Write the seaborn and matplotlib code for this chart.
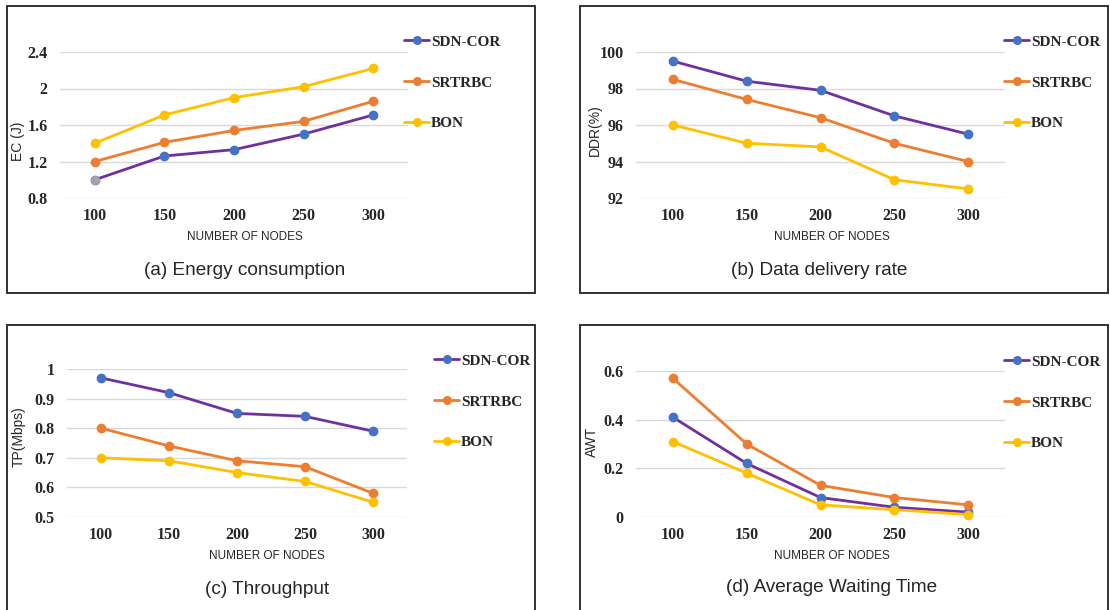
import numpy as np
import pandas as pd
import matplotlib
matplotlib.use('Agg')
import matplotlib.pyplot as plt
import matplotlib.colors as mcolors
from matplotlib.lines import Line2D
from matplotlib.patches import Rectangle
import seaborn as sns

sns.set_style('white')
plt.rcParams['font.family'] = ['Liberation Sans', 'DejaVu Sans']

nodes = [100, 150, 200, 250, 300]
methods = ['SDN-COR', 'SRTRBC', 'BON']

# (a) energy consumption
ec_sdn = [1.0, 1.26, 1.33, 1.50, 1.71]
ec_srt = [1.20, 1.41, 1.54, 1.64, 1.86]
ec_bon = [1.40, 1.71, 1.90, 2.02, 2.22]
# (b) data delivery rate
ddr_sdn = [99.5, 98.4, 97.9, 96.5, 95.5]
ddr_srt = [98.5, 97.4, 96.4, 95.0, 94.0]
ddr_bon = [96.0, 95.0, 94.8, 93.0, 92.5]
# (c) throughput
tp_sdn = [0.97, 0.92, 0.85, 0.84, 0.79]
tp_srt = [0.80, 0.74, 0.69, 0.67, 0.58]
tp_bon = [0.70, 0.69, 0.65, 0.62, 0.55]
# (d) average waiting time
awt_sdn = [0.41, 0.22, 0.08, 0.04, 0.02]
awt_srt = [0.57, 0.30, 0.13, 0.08, 0.05]
awt_bon = [0.31, 0.18, 0.05, 0.03, 0.01]

line_cols = {'SDN-COR': '#7030A0', 'SRTRBC': '#ED7D31', 'BON': '#FFC000'}
mark_cols = {'SDN-COR': '#4472C4', 'SRTRBC': '#ED7D31', 'BON': '#FFC000'}

W, H = 1110, 610
fig = plt.figure(figsize=(W / 100, H / 100), dpi=100)


def px_axes(x0, y0, x1, y1):
    return fig.add_axes([x0 / W, 1 - y1 / H, (x1 - x0) / W, (y1 - y0) / H])


def box(x0, y0, x1, y1):
    fig.patches.append(Rectangle((x0 / W, 1 - y1 / H), (x1 - x0) / W, (y1 - y0) / H,
                                 transform=fig.transFigure, fill=False,
                                 edgecolor='#222222', lw=1.3))


serif_bold = dict(family='Liberation Serif', weight='bold', size=11)
LW, MS = 2.0, 5.5

panels = [
    # series, yticks, ylabel, caption, axes box, frame, legend pos, ylabel pos, xlabel pos, caption pos
    ((ec_sdn, ec_srt, ec_bon), [0.8, 1.2, 1.6, 2.0, 2.4], 'EC (J)', '(a) Energy consumption',
     (60, 52, 408, 198), (7, 6, 535, 293), (404, 35), (18, 141), (245, 237), (245, 270)),
    ((ddr_sdn, ddr_srt, ddr_bon), [92, 94, 96, 98, 100], 'DDR(%)', '(b) Data delivery rate',
     (636, 52, 1005, 198), (580, 6, 1108, 293), (1004, 35), (595, 130), (832, 237), (819, 270)),
    ((tp_sdn, tp_srt, tp_bon), [0.5, 0.6, 0.7, 0.8, 0.9, 1.0], 'TP(Mbps)', '(c) Throughput',
     (67, 369, 407, 517), (7, 325, 535, 640), (434, 354), (19, 437), (267, 556), (267, 589)),
    ((awt_sdn, awt_srt, awt_bon), [0, 0.2, 0.4, 0.6], 'AWT', '(d) Average Waiting Time',
     (636, 371, 1005, 517), (580, 325, 1108, 640), (1004, 355), (592, 442), (832, 556), (832, 588)),
]

for series, yt, ylab, cap, axb, frm, legpos, ylpos, xlpos, cappos in panels:
    box(*frm)
    ax = px_axes(*axb)
    df = pd.DataFrame({'nodes': nodes * 3,
                       'value': series[0] + series[1] + series[2],
                       'method': np.repeat(methods, len(nodes))})
    sns.pointplot(data=df, x='nodes', y='value', hue='method', hue_order=methods,
                  palette=[line_cols[m] for m in methods], markers='o', linestyles='-',
                  errorbar=None, legend=False, ax=ax, markersize=MS, linewidth=LW)
    for ln in ax.lines:
        c = mcolors.to_hex(ln.get_color()).upper()
        for m in methods:
            if c == line_cols[m]:
                ln.set_markerfacecolor(mark_cols[m])
                ln.set_markeredgecolor(mark_cols[m])
        ln.set_clip_on(False)
    if ylab == 'EC (J)':
        # first point drawn grey in the original
        ax.plot(0, ec_sdn[0], 'o', color='#A5A5A5', ms=MS, zorder=5, clip_on=False)
    ax.set_xlim(-0.5, len(nodes) - 0.5)
    ax.set_ylim(yt[0], yt[-1])
    ax.set_yticks(yt)
    ax.set_yticklabels([f'{v:g}' for v in yt])
    ax.set_xlabel('')
    ax.set_ylabel('')
    for s in ax.spines.values():
        s.set_visible(False)
    ax.yaxis.grid(True, color='#D9D9D9', lw=1)
    ax.set_axisbelow(True)
    ax.tick_params(length=0)
    ax.tick_params(axis='y', pad=9)
    ax.tick_params(axis='x', pad=7)
    for t in ax.get_xticklabels() + ax.get_yticklabels():
        t.set_fontfamily('Liberation Serif')
        t.set_fontweight('bold')
        t.set_fontsize(11.5)

    handles = [Line2D([], [], color=line_cols[m], lw=LW, marker='o', ms=MS,
                      markerfacecolor=mark_cols[m], markeredgecolor=mark_cols[m])
               for m in methods]
    ax.legend(handles, methods, loc='upper left',
              bbox_to_anchor=(legpos[0] / W, 1 - legpos[1] / H),
              bbox_transform=fig.transFigure, frameon=False, prop=serif_bold,
              handlelength=1.65, handletextpad=0.1, labelspacing=1.78,
              borderpad=0, borderaxespad=0)

    fig.text(ylpos[0] / W, 1 - ylpos[1] / H, ylab, rotation=90, ha='center', va='center',
             fontsize=10)
    fig.text(xlpos[0] / W, 1 - xlpos[1] / H, 'NUMBER OF NODES', ha='center', va='center',
             fontsize=8.5)
    fig.text(cappos[0] / W, 1 - cappos[1] / H, cap, ha='center', va='center', fontsize=13.7)

fig.savefig('out.png', dpi=100)
